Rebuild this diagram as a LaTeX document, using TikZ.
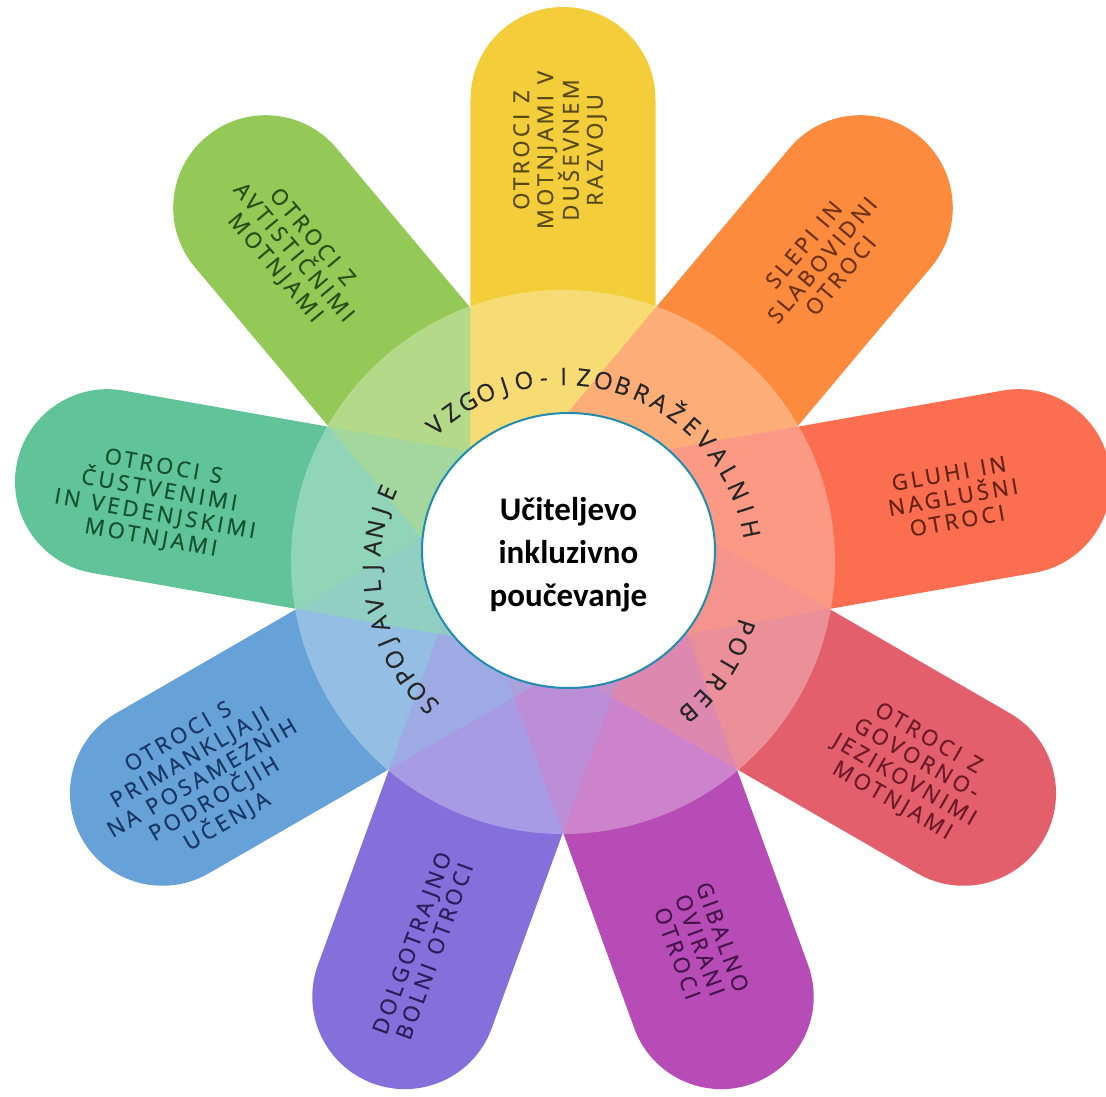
\documentclass[tikz,border=0pt]{standalone}
\usepackage{fontspec}
\usetikzlibrary{shapes.geometric}
\newfontfamily\petalfont[LetterSpace=15,FakeBold=0.6]{Open Sans}
\newfontfamily\ringfont[FakeBold=0.4]{Open Sans}
\newfontfamily\centerfont{Carlito}
\newcommand\wsp{\hspace{0.5em}}
\definecolor{cYel}{HTML}{F4CE3A}
\definecolor{cOra}{HTML}{FD8B3E}
\definecolor{cRed}{HTML}{FC6E50}
\definecolor{cPin}{HTML}{E35F6C}
\definecolor{cMag}{HTML}{B84CB7}
\definecolor{cPur}{HTML}{8370DB}
\definecolor{cBlu}{HTML}{66A2D8}
\definecolor{cTea}{HTML}{60C498}
\definecolor{cGre}{HTML}{94C957}
\definecolor{tYel}{HTML}{5A4B14}
\definecolor{tOra}{HTML}{6E3214}
\definecolor{tRed}{HTML}{642314}
\definecolor{tPin}{HTML}{6E1928}
\definecolor{tMag}{HTML}{46144B}
\definecolor{tPur}{HTML}{281E5A}
\definecolor{tBlu}{HTML}{193764}
\definecolor{tTea}{HTML}{145032}
\definecolor{tGre}{HTML}{285014}
\definecolor{hubline}{HTML}{1F8CB0}
\newcommand\drawpetal[3][]{%
  \begin{scope}[rotate=#2]
    \fill[#3,#1] (0,-92.5) -- (462.5,-92.5) arc[start angle=-90,end angle=90,radius=92.5pt] -- (0,92.5) -- cycle;
  \end{scope}}
\tikzset{
  petaltxt/.style={font=\petalfont\fontsize{22}{24}\selectfont, align=center, inner sep=0pt},
  ringtxt/.style={font=\ringfont\fontsize{24}{28}\selectfont, text=black!85, inner sep=0pt, anchor=base},
  centertxt/.style={font=\centerfont\bfseries\fontsize{33}{43}\selectfont, align=center, text=black, inner sep=0pt},
  hub/.style={ellipse, draw=hubline, line width=2pt, fill=white, minimum width=293pt, minimum height=275pt, inner sep=0pt}
}
\begin{document}
\begin{tikzpicture}[x=1pt,y=1pt]
\useasboundingbox (-563,-534) rectangle (543,562);
% base petals
\drawpetal{-150}{cBlu}
\drawpetal{-110}{cPur}
\drawpetal{-70}{cMag}
\drawpetal{-30}{cPin}
\drawpetal{170}{cTea}
\drawpetal{130}{cGre}
\drawpetal{90}{cYel}
\drawpetal{50}{cOra}
\drawpetal{10}{cRed}
% translucent overlaps inside ring
\begin{scope}
  \clip (0,0) circle[radius=272pt];
  \drawpetal[fill opacity=0.45]{10}{cRed}
  \drawpetal[fill opacity=0.45]{-30}{cPin}
  \drawpetal[fill opacity=0.45]{-70}{cMag}
  \drawpetal[fill opacity=0.45]{-110}{cPur}
  \drawpetal[fill opacity=0.45]{-150}{cBlu}
  \drawpetal[fill opacity=0.45]{170}{cTea}
\end{scope}
\fill[white, fill opacity=0.3] (0,0) circle[radius=272pt];
% petal texts
\node[petaltxt, text=tYel, rotate=90]  (tY) at (-3,412)   {OTROCI\wsp Z\\MOTNJAMI\wsp V\\DUŠEVNEM\\RAZVOJU};
\node[petaltxt, text=tOra, rotate=50]  (tO) at (259,302)  {SLEPI\wsp IN\\SLABOVIDNI\\OTROCI};
\node[petaltxt, text=tRed, rotate=10]  (tR) at (390,65)   {GLUHI\wsp IN\\NAGLUŠNI\\OTROCI};
\node[petaltxt, text=tPin, rotate=-30] (tP) at (347,-208) {OTROCI\wsp Z\\GOVORNO-\\JEZIKOVNIMI\\MOTNJAMI};
\node[petaltxt, text=tMag, rotate=-70] (tM) at (137,-383) {GIBALNO\\OVIRANI\\OTROCI};
\node[petaltxt, text=tPur, rotate=70]  (tU) at (-140,-385) {DOLGOTRAJNO\\BOLNI\wsp OTROCI};
\node[petaltxt, text=tBlu, rotate=30]  (tB) at (-360,-218) {OTROCI\wsp S\\PRIMANKLJAJI\\NA\wsp POSAMEZNIH\\PODROČJIH\\UČENJA};
\node[petaltxt, text=tTea, rotate=-10] (tT) at (-406,59)  {OTROCI\wsp S\\ČUSTVENIMI\\IN\wsp VEDENJSKIMI\\MOTNJAMI};
\node[petaltxt, text=tGre, rotate=-50] (tG) at (-270,309) {OTROCI\wsp Z\\AVTISTIČNIMI\\MOTNJAMI};
% ring texts
\begin{scope}[shift={(0,-6)}]
\foreach \ch [count=\i] in {V,Z,G,O,J,O,-,I,Z,O,B,R,A,Ž,E,V,A,L,N,I,H} {
  \pgfmathsetmacro\ang{131.8-(\i-1)*6.0}
  \node[ringtxt, rotate=\ang-90] (va\i) at (\ang:183pt) {\ch};
}
\foreach \ch [count=\i] in {P,O,T,R,E,B} {
  \pgfmathsetmacro\ang{-18-(\i-1)*6.2}
  \node[ringtxt, rotate=\ang-90] (pb\i) at (\ang:183pt) {\ch};
}
\foreach \ch [count=\i] in {S,O,P,O,J,A,V,L,J,A,N,J,E} {
  \pgfmathsetmacro\ang{225.8-(\i-1)*5.75}
  \node[ringtxt, rotate=\ang-90] (sp\i) at (\ang:183pt) {\ch};
}
\end{scope}
% hub
\node[hub] (hub) at (5.5,11.5) {};
\node[centertxt] (hubtext) at (5.5,7) {Učiteljevo\\inkluzivno\\poučevanje};
\end{tikzpicture}
\end{document}
